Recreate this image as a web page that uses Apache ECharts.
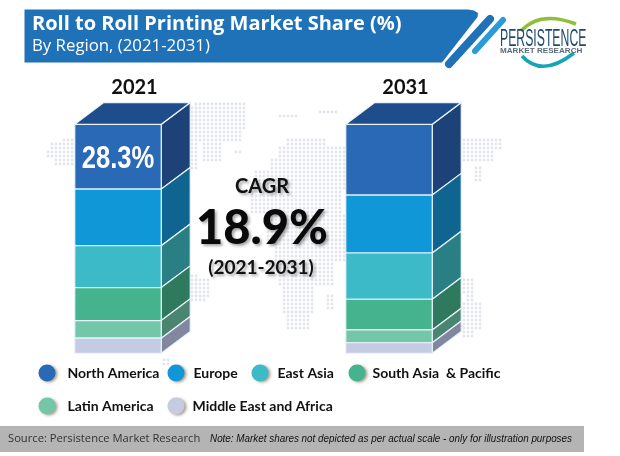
<!DOCTYPE html>
<html>
<head>
<meta charset="utf-8">
<style>
  html, body { margin: 0; padding: 0; background: #fff; }
  #chart { width: 620px; height: 456px; }
</style>
<script src="https://cdn.jsdelivr.net/npm/echarts@6/dist/echarts.min.js"></script>
</head>
<body>
<div id="chart"></div>
<script>
var years = ['2021', '2031'];
var regions = ['North America', 'Europe', 'East Asia', 'South Asia  & Pacific', 'Latin America', 'Middle East and Africa'];
var share2021 = [28.3, 24.7, 18.3, 14.4, 7.7, 6.6];
var share2031 = [30.9, 25.3, 20.2, 13.4, 5.6, 4.6];
var shownLabels2021 = ['28.3%', '', '', '', '', ''];

var frontColors = ['#2a69b5', '#0f97d8', '#3cbac8', '#45b38d', '#74c6a8', '#c4cbe3'];
var sideColors = ['#1d4278', '#0f6590', '#2a7f85', '#2f7a5e', '#4a8571', '#82869e'];
var topColor = '#1f4d8c';

var FONT = 'Lato, "Open Sans", sans-serif';
var WIDE = '"Open Sans", Lato, sans-serif';
var ARIAL = '"Liberation Sans", sans-serif';

// the prism: front face width, and how far the side runs back
var barW = 86.5, depthX = 29, depthY = 21.7;

// first region sits on top of the column, so stack down from 100
function cumulate(list) {
  var sum = 100;
  return list.map(function (v) {
    var from = sum;
    sum -= v;
    return [sum, from];
  });
}
var stack2021 = cumulate(share2021);
var stack2031 = cumulate(share2031);

function renderBlock(params, api) {
  var idx = params.seriesIndex;
  var c = api.coord([api.value(0), api.value(1)]);
  var t = api.coord([api.value(0), api.value(2)]);
  var x0 = c[0] - (barW + depthX) / 2, x1 = x0 + barW;
  var line = { stroke: '#e8f4fb', lineWidth: 1.2 };
  var kids = [
    {
      type: 'polygon',
      shape: { points: [[x1, c[1]], [x1 + depthX, c[1] - depthY], [x1 + depthX, t[1] - depthY], [x1, t[1]]] },
      style: { fill: sideColors[idx], stroke: line.stroke, lineWidth: line.lineWidth }
    },
    {
      type: 'polygon',
      shape: { points: [[x0, c[1]], [x1, c[1]], [x1, t[1]], [x0, t[1]]] },
      style: { fill: frontColors[idx], stroke: line.stroke, lineWidth: line.lineWidth }
    }
  ];
  if (idx === 0) {
    kids.push({
      type: 'polygon',
      shape: { points: [[x0, t[1]], [x0 + depthX, t[1] - depthY], [x1 + depthX, t[1] - depthY], [x1, t[1]]] },
      style: { fill: topColor, stroke: line.stroke, lineWidth: line.lineWidth }
    });
  }
  if (params.dataIndex === 0 && shownLabels2021[idx]) {
    kids.push({
      type: 'text',
      x: (x0 + x1) / 2,
      y: (c[1] + t[1]) / 2 + 2,
      scaleX: 0.8,
      style: {
        text: shownLabels2021[idx],
        x: 0,
        y: 0,
        fill: '#fff',
        font: 'bold 32px ' + ARIAL,
        align: 'center',
        verticalAlign: 'middle'
      }
    });
  }
  return { type: 'group', children: kids };
}

var series = regions.map(function (name, i) {
  return {
    name: name,
    type: 'custom',
    silent: true,
    renderItem: renderBlock,
    itemStyle: { color: frontColors[i] },
    encode: { x: 0, y: [1, 2] },
    data: [
      [0, stack2021[i][0], stack2021[i][1]],
      [1, stack2031[i][0], stack2031[i][1]]
    ]
  };
});

// legend items sit at uneven spots in the picture: [left, top, gap to text]
var legendSlots = [[38.5, 364.5, 7], [167.5, 364.5, 4], [251.5, 364.5, 4], [348.5, 364.5, 2], [38.5, 397.5, 7], [167.5, 397.5, 3]];
var legends = regions.map(function (name, i) {
  return {
    data: [name],
    left: legendSlots[i][0],
    top: legendSlots[i][1],
    padding: 0,
    icon: 'circle',
    itemWidth: 17,
    itemHeight: 17,
    selectedMode: false,
    itemStyle: { shadowBlur: 3, shadowColor: 'rgba(90,80,50,.55)', shadowOffsetX: 2, shadowOffsetY: 1 },
    textStyle: {
      color: '#111',
      fontFamily: FONT,
      fontWeight: 'bold',
      fontSize: 14,
      padding: [0, 0, 0, legendSlots[i][2]]
    }
  };
});

// faint dotted world map behind everything, as blocks of land [x0, y0, x1, y1]
var mapBlocks = [
  [61, 138, 75, 142], [49, 142, 75, 150], [45, 150, 75, 158], [53, 158, 75, 167],
  [193, 102, 245, 130], [197, 130, 241, 143], [201, 143, 223, 162], [233, 149, 243, 153],
  [277, 113, 297, 119], [317, 109, 337, 113],
  [285, 138, 325, 146], [277, 146, 345, 158], [270, 158, 345, 170], [256, 170, 345, 190], [250, 190, 340, 213],
  [266, 213, 345, 240], [274, 240, 345, 262], [278, 262, 332, 287], [283, 287, 313, 312], [288, 312, 308, 330],
  [326, 296, 334, 310], [193, 277, 210, 296], [197, 296, 206, 303],
  [190, 105, 197, 170], [190, 275, 197, 300], [161, 357, 171, 367],
  [463, 140, 502, 150], [463, 150, 495, 162], [473, 166, 481, 180],
  [463, 280, 474, 292], [467, 296, 472, 302], [463, 303, 482, 330], [463, 330, 474, 338]
];
var mapDots = [];
mapBlocks.forEach(function (b) {
  for (var y = Math.ceil(b[1] / 4) * 4; y <= b[3]; y += 4) {
    for (var x = Math.ceil(b[0] / 4) * 4; x <= b[2]; x += 4) {
      mapDots.push({
        type: 'circle',
        silent: true,
        shape: { cx: x, cy: y, r: 1.4 },
        style: { fill: '#e2e5eb' }
      });
    }
  }
});

function label(text, x, y, font, fill, extra) {
  var style = { text: text, x: x, y: y, font: font, fill: fill, align: 'left', verticalAlign: 'middle' };
  for (var k in extra) style[k] = extra[k];
  return { type: 'text', silent: true, style: style };
}
var glow = { align: 'center', textShadowColor: 'rgba(0,0,0,.35)', textShadowBlur: 3, textShadowOffsetX: 2, textShadowOffsetY: 2 };

var decorations = mapDots.concat([
  // header band
  { type: 'polygon', silent: true, shape: { points: [[24.5, 9.5], [468, 9.5], [474, 10.5], [478, 13], [477.5, 17], [442, 62.5], [24.5, 62.5]] }, style: { fill: '#1f71b8' } },
  { type: 'line', silent: true, shape: { x1: 490, y1: 19, x2: 449, y2: 64 }, style: { stroke: '#1f71b8', lineWidth: 8, lineCap: 'round' } },
  { type: 'line', silent: true, shape: { x1: 503, y1: 20, x2: 475, y2: 51 }, style: { stroke: '#2a9bd8', lineWidth: 6, lineCap: 'round' } },
  label('Roll to Roll Printing Market Share (%)', 32, 24, 'bold 20px ' + WIDE, '#fff'),
  label('By Region, (2021-2031)', 32, 46, '16.8px ' + WIDE, '#fff'),
  // logo
  { type: 'bezierCurve', silent: true, shape: { x1: 521, y1: 31, x2: 576, y2: 24, cpx1: 540, cpy1: 10 }, style: { stroke: '#8fbf3a', fill: 'none', lineWidth: 3.5 } },
  { type: 'bezierCurve', silent: true, shape: { x1: 522, y1: 56, x2: 574, y2: 53, cpx1: 542, cpy1: 78 }, style: { stroke: '#17a5b5', fill: 'none', lineWidth: 3.5 } },
  { type: 'text', silent: true, x: 500, y: 39, scaleX: 0.51, style: { text: 'PERSISTENCE', x: 0, y: 0, font: '24px ' + ARIAL, fill: '#1c4a6e', align: 'left', verticalAlign: 'middle' } },
  { type: 'text', silent: true, x: 500, y: 51, scaleX: 1.08, style: { text: 'MARKET RESEARCH', x: 0, y: 0, font: 'bold 7.5px ' + ARIAL, fill: '#5a6a78', align: 'left', verticalAlign: 'middle' } },
  // CAGR callout
  label('CAGR', 262, 187, 'bold 20px ' + FONT, '#111', glow),
  label('18.9%', 262, 229, '900 47px ' + FONT, '#0a0a0a', glow),
  label('(2021-2031)', 261, 268, 'bold 19px ' + FONT, '#111', glow),
  // footer
  { type: 'rect', silent: true, shape: { x: 0, y: 426, width: 584, height: 26 }, style: { fill: '#b4b4b4' } },
  label('Source: Persistence Market Research', 8, 439, '11.2px ' + WIDE, '#333'),
  { type: 'text', silent: true, x: 210, y: 439, scaleX: 0.897, style: { text: 'Note: Market shares not depicted as per actual scale - only for illustration purposes', x: 0, y: 0, font: 'italic 11px ' + ARIAL, fill: '#111', align: 'left', verticalAlign: 'middle' } }
]);

var option = {
  animation: false,
  backgroundColor: '#fff',
  grid: { left: 132.5, right: 216.5, top: 124.3, bottom: 102.7 },
  xAxis: {
    type: 'category',
    position: 'top',
    boundaryGap: false,
    data: years,
    axisLine: { show: false },
    axisTick: { show: false },
    axisLabel: { color: '#111', fontFamily: FONT, fontWeight: 'bold', fontSize: 20, margin: 27, padding: [0, 0, 0, 4] }
  },
  yAxis: { type: 'value', min: 0, max: 100, show: false },
  legend: legends,
  graphic: { elements: decorations },
  series: series
};

var chartDom = echarts.init(document.getElementById('chart'));
chartDom.setOption(option);
</script>
</body>
</html>
